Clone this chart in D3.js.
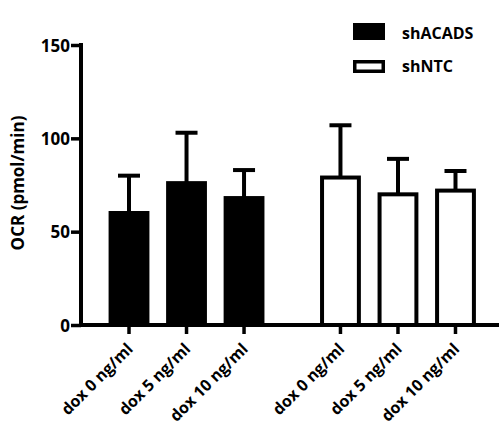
<!DOCTYPE html>
<html>
<head>
<meta charset="utf-8">
<script src="https://cdn.jsdelivr.net/npm/d3@7"></script>
<style>
  body { margin: 0; background: #fff; }
  svg { display: block; }
  text { font-family: "Open Sans", sans-serif; font-weight: bold; fill: #000; }
</style>
</head>
<body>
<svg id="chart" width="499" height="430"></svg>
<script>
// OCR per condition, mean and standard deviation
const groups = ["shACADS", "shNTC"];
const doses = ["dox 0 ng/ml", "dox 5 ng/ml", "dox 10 ng/ml"];
const meanACADS = [60, 76, 68];
const sdACADS = [20, 27, 15];
const meanNTC = [79, 70, 72];
const sdNTC = [28, 19, 10.5];
const yTicks = [0, 50, 100, 150];

const data = [];
groups.forEach((g, gi) => {
  const m = gi === 0 ? meanACADS : meanNTC;
  const s = gi === 0 ? sdACADS : sdNTC;
  doses.forEach((d, di) => data.push({ group: g, dose: d, mean: m[di], sd: s[di] }));
});

const svg = d3.select("#chart");
const axisX = 81, baseY = 325;
const lw = 4;

const y = d3.scaleLinear().domain([0, 150]).range([baseY, 45]);
const x0 = d3.scaleBand().domain(groups).range([100.25, 484.25]).paddingInner(0.184);
const x1 = d3.scaleBand().domain(doses).range([0, x0.bandwidth()])
  .paddingInner(0.29).paddingOuter(0.145);

const fillOf = g => g === "shACADS" ? "#000" : "#fff";

// bars
svg.append("g").selectAll("rect").data(data).join("rect")
  .attr("x", d => x0(d.group) + x1(d.dose) + lw / 2)
  .attr("y", d => y(d.mean))
  .attr("width", x1.bandwidth() - lw)
  .attr("height", d => baseY - y(d.mean))
  .attr("fill", d => fillOf(d.group))
  .attr("stroke", "#000")
  .attr("stroke-width", lw);

// error bars (upper whisker with cap)
const cx = d => x0(d.group) + x1(d.dose) + x1.bandwidth() / 2;
const err = svg.append("g").attr("stroke", "#000").attr("stroke-width", lw);
err.selectAll("line.v").data(data).join("line").attr("class", "v")
  .attr("x1", cx).attr("x2", cx)
  .attr("y1", d => y(d.mean)).attr("y2", d => y(d.mean + d.sd));
err.selectAll("line.c").data(data).join("line").attr("class", "c")
  .attr("x1", d => cx(d) - 11).attr("x2", d => cx(d) + 11)
  .attr("y1", d => y(d.mean + d.sd)).attr("y2", d => y(d.mean + d.sd));

// y axis
const yAxis = svg.append("g").attr("transform", `translate(${axisX},0)`)
  .call(d3.axisLeft(y).tickValues(yTicks).tickSize(10).tickPadding(1).tickFormat(d3.format("d")));
yAxis.select(".domain").remove();
yAxis.selectAll(".tick line").attr("stroke-width", 3.5);
yAxis.selectAll(".tick text").attr("font-size", 17).attr("dy", "0.36em");
svg.append("line").attr("x1", axisX).attr("x2", axisX).attr("y1", 43).attr("y2", baseY + 2)
  .attr("stroke", "#000").attr("stroke-width", lw);

// x axis baseline
svg.append("line").attr("x1", axisX - 2).attr("x2", 499).attr("y1", baseY).attr("y2", baseY)
  .attr("stroke", "#000").attr("stroke-width", lw);

// x ticks and rotated labels per group
groups.forEach(g => {
  const ax = svg.append("g").attr("transform", `translate(${x0(g)},${baseY})`)
    .call(d3.axisBottom(x1).tickSize(9).tickPadding(0));
  ax.select(".domain").remove();
  ax.selectAll(".tick line").attr("stroke-width", 3.5);
  ax.selectAll(".tick text")
    .attr("font-size", 16)
    .attr("text-anchor", "end")
    .attr("dy", null)
    .attr("y", 0)
    .attr("transform", "translate(5,25) rotate(-45)");
});

// y axis title
svg.append("text")
  .attr("transform", "translate(24,183) rotate(-90)")
  .attr("text-anchor", "middle")
  .attr("font-size", 17)
  .text("OCR (pmol/min)");

// legend
const legend = svg.append("g");
const boxes = [{ y: 23, h: 17 }, { y: 60, h: 13 }];
groups.forEach((g, i) => {
  const b = boxes[i];
  const row = legend.append("g").attr("transform", `translate(353,${b.y})`);
  row.append("rect").attr("x", 1.75).attr("y", 1.75).attr("width", 32 - 3.5).attr("height", b.h - 3.5)
    .attr("fill", fillOf(g)).attr("stroke", "#000").attr("stroke-width", 3.5);
  row.append("text").attr("x", 49).attr("y", b.h - 1).attr("font-size", 16).text(g);
});
</script>
</body>
</html>
